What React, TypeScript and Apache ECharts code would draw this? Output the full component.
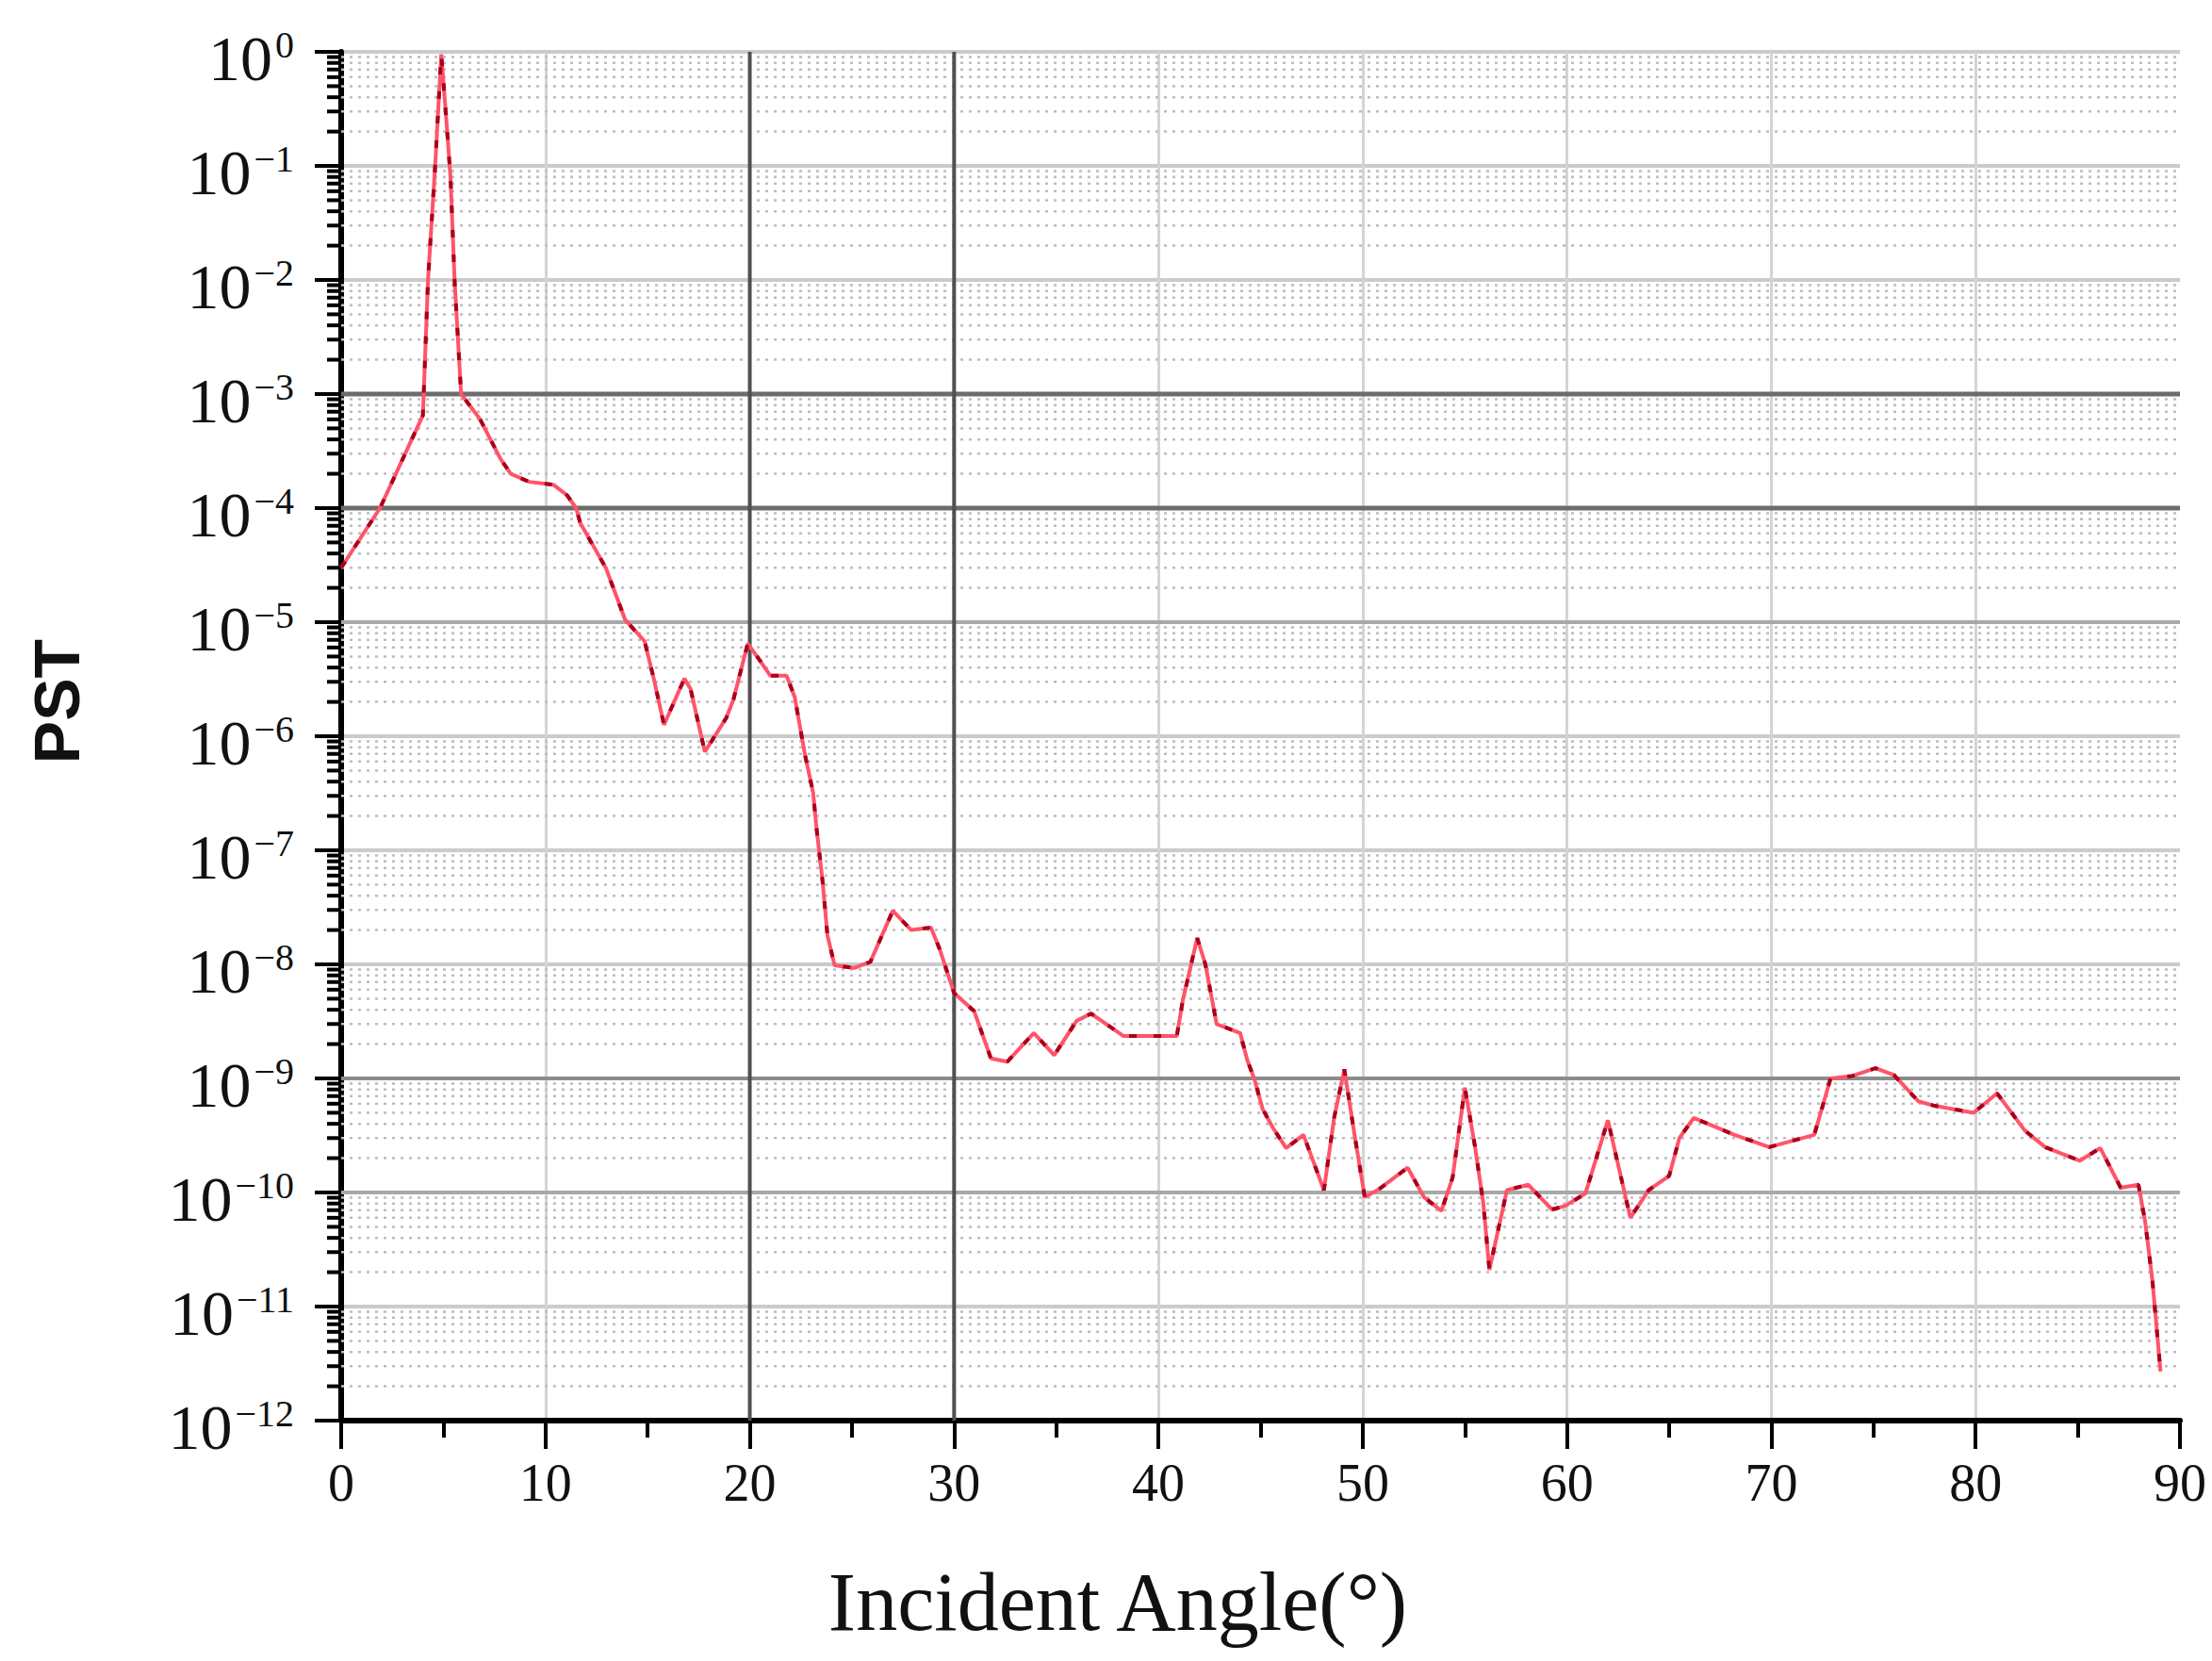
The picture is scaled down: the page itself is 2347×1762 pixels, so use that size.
import React, { useEffect, useRef } from "react";
import * as echarts from "echarts";

// Incident angle (degrees)
const angles = [
  0, 1.9, 4.0, 4.25, 4.6, 4.9, 5.15, 5.35, 5.55, 5.87, 6.8, 7.8, 8.3, 9.2, 10.4, 11.05, 11.5, 11.7, 12.95, 13.9,
  14.85, 15.3, 15.8, 16.8, 17.1, 17.8, 18.85, 19.2, 19.9, 20.5, 21.0, 21.8, 22.2, 22.7, 23.1, 23.26, 23.56, 23.8,
  24.15, 25.1, 25.9, 27.0, 27.9, 28.87, 29.3, 30.0, 30.98, 31.8, 32.6, 33.9, 34.9, 36.0, 36.7, 38.3, 40.9, 41.2,
  41.9, 42.3, 42.85, 44.0, 44.35, 44.7, 45.1, 45.6, 46.25, 47.1, 48.1, 48.6, 49.1, 49.6, 50.1, 50.8, 52.2, 53.0,
  53.85, 54.4, 55.0, 55.5, 55.9, 56.2, 57.06, 58.1, 59.26, 59.9, 60.9, 62.0, 63.1, 64.0, 65.0, 65.5, 66.2, 68.2,
  69.9, 72.1, 72.9, 73.95, 75.1, 76.0, 77.2, 78.0, 79.9, 81.05, 82.4, 83.4, 85.1, 86.1, 87.1, 87.97, 88.3, 88.65,
  89.05,
];

// PST values
const pst = [
  3e-5, 1e-4, 6.5e-4, 1e-2, 1e-1, 0.95, 0.25, 0.08, 1e-2, 1e-3, 6e-4, 2.7e-4, 2e-4, 1.7e-4, 1.6e-4, 1.3e-4, 1e-4,
  7.4e-5, 3e-5, 1.05e-5, 6.8e-6, 3.2e-6, 1.26e-6, 3.2e-6, 2.6e-6, 7.3e-7, 1.45e-6, 2.1e-6, 6.5e-6, 4.6e-6, 3.4e-6,
  3.4e-6, 2.2e-6, 6.9e-7, 3.2e-7, 1.6e-7, 5.4e-8, 1.8e-8, 9.8e-9, 9.3e-9, 1.05e-8, 2.95e-8, 2.0e-8, 2.1e-8,
  1.35e-8, 5.6e-9, 3.9e-9, 1.5e-9, 1.4e-9, 2.5e-9, 1.6e-9, 3.2e-9, 3.7e-9, 2.35e-9, 2.35e-9, 4.9e-9, 1.7e-8, 1e-8,
  3e-9, 2.5e-9, 1.45e-9, 9.8e-10, 5.4e-10, 3.7e-10, 2.45e-10, 3.2e-10, 1.05e-10, 4.5e-10, 1.2e-9, 3.2e-10,
  9.1e-11, 1.07e-10, 1.65e-10, 9.1e-11, 6.9e-11, 1.35e-10, 8.3e-10, 2.5e-10, 8.1e-11, 2.1e-11, 1.05e-10,
  1.17e-10, 7.1e-11, 7.6e-11, 9.8e-11, 4.3e-10, 6e-11, 1.05e-10, 1.4e-10, 3e-10, 4.5e-10, 3.2e-10, 2.5e-10,
  3.2e-10, 1.0e-9, 1.05e-9, 1.23e-9, 1.07e-9, 6.3e-10, 5.75e-10, 5e-10, 7.4e-10, 3.5e-10, 2.5e-10, 1.9e-10,
  2.45e-10, 1.1e-10, 1.17e-10, 5.5e-11, 1.7e-11, 2.7e-12,
];

// Axis settings
const xMin = 0;
const xMax = 90;
const xInterval = 10;
const yMin = 1e-12;
const yMax = 1;
const yDecades = [-12, -11, -10, -9, -8, -7, -6, -5, -4, -3, -2, -1];
const minorMantissas = [2, 3, 4, 5, 6, 7, 8, 9];

// Emphasised grid lines
const darkYLines = [1e-3, 1e-4];
const mediumYLines = [1e-9];
const softYLines = [1e-5, 1e-10];
const darkXLines = [20, 30];

const xTitle = "Incident Angle(°)";
const yTitle = "PST";

export default function App() {
  const ref = useRef<HTMLDivElement>(null);

  useEffect(() => {
    if (!ref.current) return;
    const chart = echarts.init(ref.current, undefined, { renderer: "svg" });

    const lineData = angles.map((a, i) => [a, pst[i]]);
    const minorData: number[][] = [];
    yDecades.forEach((e) => {
      minorMantissas.forEach((m) => minorData.push([xMin, m * Math.pow(10, e)]));
    });

    const serif = "'Liberation Serif', 'Times New Roman', serif";

    const hLineSeries = (values: number[], color: string, width: number) => ({
      type: "custom",
      z: 2,
      silent: true,
      data: values.map((v) => [xMin, v]),
      encode: { x: 0, y: 1 },
      renderItem: (params: any, api: any) => {
        const p = api.coord([api.value(0), api.value(1)]);
        const cs = params.coordSys;
        return {
          type: "line",
          shape: { x1: cs.x, y1: p[1], x2: cs.x + cs.width, y2: p[1] },
          style: { stroke: color, lineWidth: width },
        };
      },
    });

    const vLineSeries = (values: number[], color: string, width: number) => ({
      type: "custom",
      z: 2,
      silent: true,
      data: values.map((v) => [v, yMin]),
      encode: { x: 0, y: 1 },
      renderItem: (params: any, api: any) => {
        const p = api.coord([api.value(0), api.value(1)]);
        const cs = params.coordSys;
        return {
          type: "line",
          shape: { x1: p[0], y1: cs.y, x2: p[0], y2: cs.y + cs.height },
          style: { stroke: color, lineWidth: width },
        };
      },
    });

    chart.setOption({
      animation: false,
      backgroundColor: "#ffffff",
      grid: { left: 362, right: 34, top: 55, bottom: 255, containLabel: false },
      xAxis: {
        type: "value",
        min: xMin,
        max: xMax,
        interval: xInterval,
        axisLine: { show: true, lineStyle: { color: "#000", width: 6 } },
        axisTick: { show: true, inside: false, length: 30, lineStyle: { color: "#000", width: 4 } },
        minorTick: { show: true, splitNumber: 2, length: 18, lineStyle: { color: "#000", width: 4 } },
        axisLabel: { fontFamily: serif, fontSize: 56, color: "#111", margin: 38 },
        splitLine: { show: true, showMaxLine: false, lineStyle: { color: "#d4d4d4", width: 3 } },
      },
      yAxis: {
        type: "log",
        logBase: 10,
        min: yMin,
        max: yMax,
        interval: 1,
        splitNumber: 12,
        axisLine: { show: true, lineStyle: { color: "#000", width: 6 } },
        axisTick: { show: true, inside: false, length: 28, lineStyle: { color: "#000", width: 4 } },
        axisLabel: {
          margin: 50,
          formatter: (v: number) => {
            const e = Math.round(Math.log10(v));
            const sup = e < 0 ? "\u2212" + String(-e) : String(e);
            return "{b|10}{s|" + sup + "}";
          },
          rich: {
            b: { fontFamily: serif, fontSize: 68, lineHeight: 68, color: "#111", padding: [14, 0, 0, 0] },
            s: {
              fontFamily: serif,
              fontSize: 40,
              lineHeight: 40,
              color: "#111",
              verticalAlign: "top",
              padding: [6, 0, 0, 3],
            },
          },
        },
        splitLine: { show: true, lineStyle: { color: "#cbcbcb", width: 4 } },
      },
      series: [
        {
          type: "custom",
          z: 1,
          silent: true,
          data: minorData,
          encode: { x: 0, y: 1 },
          renderItem: (params: any, api: any) => {
            const p = api.coord([api.value(0), api.value(1)]);
            const cs = params.coordSys;
            return {
              type: "group",
              children: [
                {
                  type: "line",
                  shape: { x1: cs.x, y1: p[1], x2: cs.x + cs.width, y2: p[1] },
                  style: { stroke: "#bdbdbd", lineWidth: 2.5, lineDash: [3, 6] },
                },
                {
                  type: "line",
                  shape: { x1: cs.x - 15, y1: p[1], x2: cs.x, y2: p[1] },
                  style: { stroke: "#000", lineWidth: 4 },
                },
              ],
            };
          },
        },
        hLineSeries(softYLines, "#a8a8a8", 4),
        hLineSeries(mediumYLines, "#8c8c8c", 4),
        hLineSeries(darkYLines, "#6c6c6c", 5),
        vLineSeries(darkXLines, "#505050", 4),
        {
          type: "line",
          z: 3,
          data: lineData,
          showSymbol: false,
          symbol: "none",
          lineStyle: { color: "#ff5468", width: 4 },
        },
        {
          type: "line",
          z: 4,
          data: lineData,
          showSymbol: false,
          symbol: "none",
          lineStyle: { color: "#a8001c", width: 4, type: [8, 18] },
        },
      ],
      graphic: [
        {
          type: "text",
          x: 60,
          y: 744,
          rotation: Math.PI / 2,
          style: {
            text: yTitle,
            font: "bold 68px 'Liberation Sans', Arial, sans-serif",
            fill: "#111",
            textAlign: "center",
            textVerticalAlign: "middle",
          },
        },
        {
          type: "text",
          x: 1186,
          y: 1699,
          style: {
            text: xTitle,
            font: "88px 'Liberation Serif', 'Times New Roman', serif",
            fill: "#111",
            textAlign: "center",
            textVerticalAlign: "middle",
          },
        },
      ],
    });

    return () => {
      chart.dispose();
    };
  }, []);

  return (
    <div
      ref={ref}
      style={{ position: "absolute", left: 0, top: 0, width: 2347, height: 1762, background: "#fff" }}
    />
  );
}
